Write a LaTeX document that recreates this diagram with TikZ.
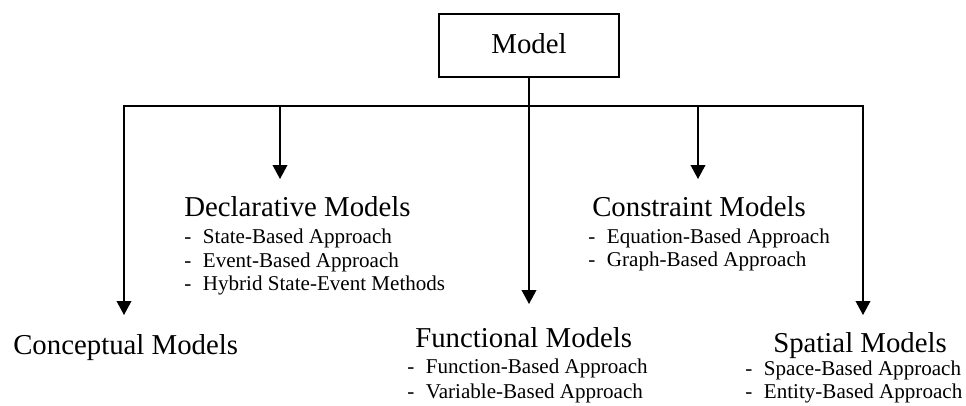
\documentclass[tikz,border=0pt]{standalone}
\usepackage{fontspec}
\setmainfont{Liberation Serif}
\usetikzlibrary{arrows.meta}
\begin{document}
\begin{tikzpicture}[x=0.75pt,y=-0.75pt,
  wire/.style={line width=1.2pt,line cap=rect},
  arr/.style={line width=1.2pt,-{Triangle[length=10.5pt,width=11pt]}},
  title/.style={anchor=base west,inner sep=0pt,font=\fontsize{21.6pt}{24pt}\selectfont},
  item/.style={anchor=base west,inner sep=0pt,font=\fontsize{15.8pt}{18pt}\selectfont},
  rootbox/.style={draw,line width=1pt,minimum width=135pt,minimum height=47.25pt,
    inner sep=0pt,font=\fontsize{21.6pt}{24pt}\selectfont},
]
\newcommand{\dashitem}[1]{\makebox[14pt][l]{-}#1}
\useasboundingbox (0,0) rectangle (966,405);

% root
\node[rootbox] (model) at (529,45.5) {\raisebox{2.4pt}{Model}};

% bus
\coordinate (busL) at (124,106);
\coordinate (busR) at (863,106);
\coordinate (bus2) at (280,106);
\coordinate (bus3) at (model.south |- busL);
\coordinate (bus4) at (698,106);

% arrow tips
\coordinate (tip1) at (124,315);
\coordinate (tip2) at (280,179);
\coordinate (tip3) at (model.south |- 0,304);
\coordinate (tip4) at (698,179);
\coordinate (tip5) at (863,315);

\draw[wire] (model.south) -- (bus3);
\draw[wire] (busL) -- (busR);
\draw[arr] (busL) -- (tip1);
\draw[arr] (bus2) -- (tip2);
\draw[arr] (bus3) -- (tip3);
\draw[arr] (bus4) -- (tip4);
\draw[arr] (busR) -- (tip5);

% Declarative
\node[title] (decl) at (184,216) {Declarative Models};
\node[item] (decl1) at (184,243) {\dashitem{State-Based Approach}};
\node[item] (decl2) at (184,267) {\dashitem{Event-Based Approach}};
\node[item] (decl3) at (184,290) {\dashitem{Hybrid State-Event Methods}};

% Constraint
\node[title] (cons) at (592,216) {Constraint Models};
\node[item] (cons1) at (588,243) {\dashitem{Equation-Based Approach}};
\node[item] (cons2) at (588,266) {\dashitem{Graph-Based Approach}};

% Conceptual
\node[title] (conc) at (13,354) {Conceptual Models};

% Functional
\node[title] (func) at (415,347) {Functional Models};
\node[item] (func1) at (407,373) {\dashitem{Function-Based Approach}};
\node[item] (func2) at (407,398) {\dashitem{Variable-Based Approach}};

% Spatial
\node[title] (spat) at (773,352) {Spatial Models};
\node[item] (spat1) at (745,375) {\dashitem{Space-Based Approach}};
\node[item] (spat2) at (745,398) {\dashitem{Entity-Based Approach}};
\end{tikzpicture}
\end{document}
